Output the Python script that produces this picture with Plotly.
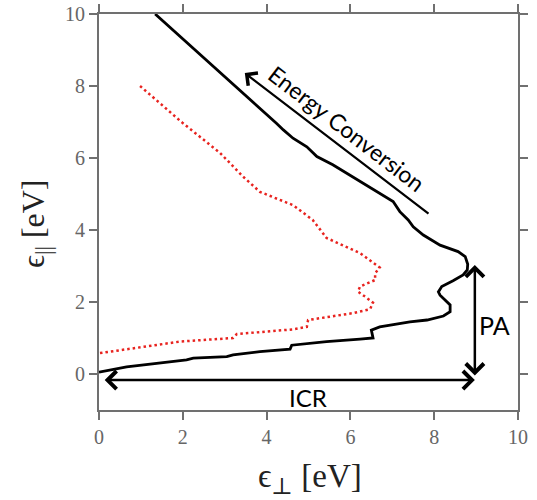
import plotly.graph_objects as go

# black solid trajectory (eps_perp, eps_par)
black_x = [1.34, 2.80, 4.24, 4.40, 4.63, 4.96, 5.20, 5.58, 5.91, 6.31, 6.78, 7.02, 7.18, 7.38, 7.50, 7.74,
           8.14, 8.57, 8.74, 8.80, 8.79, 8.69, 8.45, 8.18, 8.10, 8.14, 8.38, 8.38, 8.22, 7.83, 7.42,
           6.70, 6.50, 6.54, 6.23, 5.43, 4.60, 4.56, 3.84, 3.20, 3.05, 2.25, 2.09, 1.46, 0.66, 0.00]
black_y = [10.0, 8.48, 6.96, 6.78, 6.55, 6.31, 6.04, 5.81, 5.58, 5.30, 4.97, 4.79, 4.51, 4.28, 4.09, 3.86,
           3.58, 3.40, 3.26, 3.05, 2.89, 2.75, 2.59, 2.43, 2.28, 2.19, 1.92, 1.73, 1.61, 1.50, 1.45,
           1.31, 1.22, 1.00, 0.97, 0.90, 0.80, 0.69, 0.62, 0.53, 0.48, 0.44, 0.39, 0.30, 0.20, 0.05]

# red dotted trajectory
red_x = [0.98, 2.00, 2.89, 3.44, 3.84, 4.63, 5.10, 5.43, 6.23, 6.70, 6.59, 6.59, 6.23, 6.18, 6.35,
         6.54, 6.47, 6.06, 5.44, 4.99, 4.96, 4.63, 3.29, 3.20, 1.93, 1.05, 0.02]
red_y = [8.00, 6.97, 6.14, 5.48, 5.06, 4.69, 4.28, 3.78, 3.36, 2.96, 2.80, 2.61, 2.43, 2.29, 2.15,
         1.98, 1.80, 1.69, 1.58, 1.50, 1.31, 1.24, 1.11, 1.00, 0.90, 0.76, 0.58]

x_ticks = [0, 2, 4, 6, 8, 10]
y_ticks = [0, 2, 4, 6, 8, 10]

fig = go.Figure()
fig.add_trace(go.Scatter(x=red_x, y=red_y, mode="lines",
                         line=dict(color="#e8231f", width=2.5, dash="2.5px,3px"),
                         showlegend=False, hoverinfo="skip"))
fig.add_trace(go.Scatter(x=black_x, y=black_y, mode="lines",
                         line=dict(color="black", width=2.8),
                         showlegend=False, hoverinfo="skip"))

serif = "Liberation Serif, DejaVu Serif, serif"
ann_font = dict(family="Lato, Open Sans, sans-serif", color="black")
annotations = [
    # Energy Conversion arrow
    dict(x=3.48, y=8.36, ax=7.90, ay=4.42, xref="x", yref="y", axref="x", ayref="y",
         text="", showarrow=True, arrowhead=4, arrowsize=1.4, arrowwidth=2.2, arrowcolor="black",
         standoff=0, startstandoff=0),
    dict(x=5.90, y=6.82, xref="x", yref="y", text="Energy Conversion", showarrow=False,
         textangle=37.5, font=dict(size=23, **ann_font)),
    # PA double arrow
    dict(x=8.97, y=3.03, ax=8.97, ay=-0.08, xref="x", yref="y", axref="x", ayref="y",
         text="", showarrow=True, arrowhead=4, startarrowhead=4, arrowside="end+start",
         arrowsize=1.4, startarrowsize=1.4, arrowwidth=2.5, arrowcolor="black",
         standoff=0, startstandoff=0),
    dict(x=9.45, y=1.36, xref="x", yref="y", text="PA", showarrow=False,
         font=dict(size=25, **ann_font)),
    # ICR double arrow
    dict(x=8.97, y=-0.17, ax=0.10, ay=-0.17, xref="x", yref="y", axref="x", ayref="y",
         text="", showarrow=True, arrowhead=4, startarrowhead=4, arrowside="end+start",
         arrowsize=1.4, startarrowsize=1.4, arrowwidth=2.5, arrowcolor="black",
         standoff=0, startstandoff=0),
    dict(x=4.99, y=-0.64, xref="x", yref="y", text="ICR", showarrow=False,
         font=dict(size=24, **ann_font)),
    # axis titles
    dict(x=0.5036, y=-0.172, xref="paper", yref="paper", xanchor="center", yanchor="middle",
         text="ϵ<sub>⊥</sub> [eV]",
         showarrow=False, font=dict(family=serif, size=33, color="#222")),
    dict(x=-0.15, y=0.47, xref="paper", yref="paper", xanchor="center", yanchor="middle",
         text="ϵ<sub>||</sub> [eV]",
         showarrow=False, textangle=-90,
         font=dict(family=serif, size=32, color="#222")),
]

axis_common = dict(showline=True, linecolor="#707070", linewidth=2, mirror="ticks",
                   ticks="outside", ticklen=8, tickwidth=2, tickcolor="#707070",
                   showgrid=False, zeroline=False, automargin=False,
                   tickfont=dict(family=serif, size=20, color="#666"))

fig.update_layout(
    width=537, height=500,
    margin=dict(l=99, r=19, t=14, b=90),
    paper_bgcolor="white", plot_bgcolor="white",
    xaxis=dict(range=[0, 10], tickvals=x_ticks, ticktext=[str(v) for v in x_ticks], **axis_common),
    yaxis=dict(range=[-1, 10], tickvals=y_ticks, ticktext=[str(v) for v in y_ticks], **axis_common),
    annotations=annotations,
)

fig.write_html("out.html")
